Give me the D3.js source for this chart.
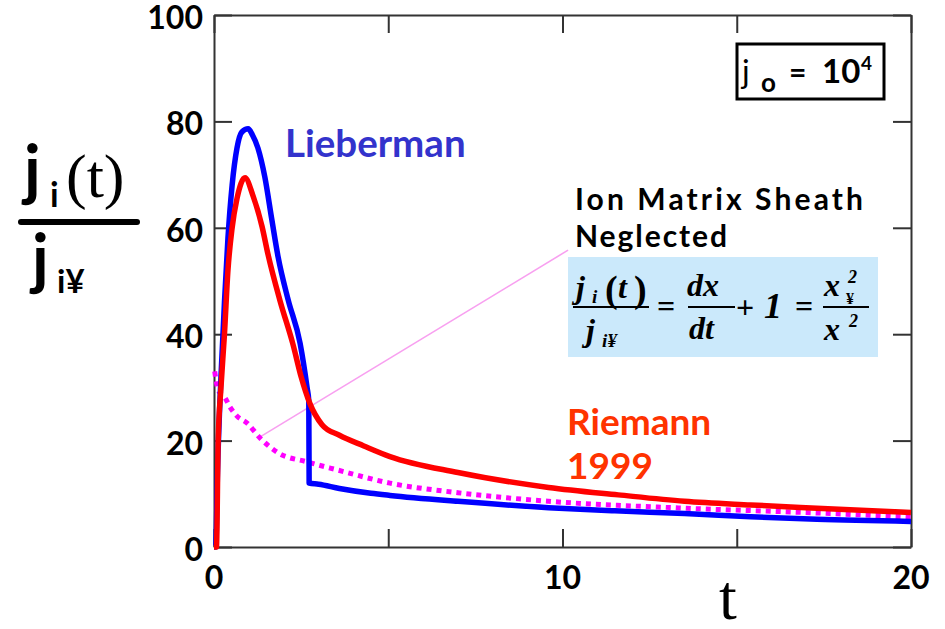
<!DOCTYPE html>
<meta charset="utf-8">
<script src="https://d3js.org/d3.v7.min.js"></script>
<style>
  body { margin: 0; background: #fff; }
  text { font-family: Lato, "Open Sans", sans-serif; }
  .eq { font-family: "Liberation Serif", serif; font-style: italic; font-weight: bold; }
</style>
<div id="chart"></div>
<script>
// curve values: [t, j_i/j_i∞]
const lieberman = [[0,0],[0.05,0],[0.1,14],[0.2,32],[0.3,46],[0.4,58],[0.52,68],[0.66,75],[0.8,78],[0.98,78.6],
  [1.1,77.5],[1.26,75],[1.46,69.5],[1.66,61.5],[1.84,54.5],[2.13,46.4],[2.47,38.3],[2.67,30],[2.72,27.5],[2.73,12],
  [3.0,11.8],[3.6,11.0],[4.5,10.1],[5.05,9.7],[7,8.6],[9.6,7.4],[11.5,6.8],[13.5,6.3],[15.4,5.7],[17.3,5.2],[20,4.8]];
const riemann = [[0,0],[0.07,0],[0.12,20],[0.2,30],[0.3,40],[0.4,52],[0.52,60],[0.66,65.5],[0.89,69.4],[1.12,66],
  [1.38,60.2],[1.55,55],[1.89,46.4],[2.27,38],[2.5,32],[2.75,27],[3.1,23],[3.6,21],[4.3,19],[5.05,17],
  [7,14],[9.6,11.2],[11.6,9.8],[13.5,8.6],[15.4,7.9],[17.3,7.3],[20,6.5]];
const neglected = [[0.02,33],[0.12,29.5],[0.32,28],[0.46,26.3],[0.66,24.6],[0.95,23.3],[1.32,20.5],[1.84,17.7],
  [2.67,16],[3.53,14.5],[5.05,12],[7,10.2],[9.6,8.6],[13.5,7.3],[17.3,6.4],[20,5.6]];
const xTicks = [0, 5, 10, 15, 20];
const xLabels = [0, 10, 20];
const yTicks = [0, 20, 40, 60, 80, 100];
const pointer = [[1.3, 20.6], [10.16, 55.8]];

const W = 945, H = 629;
const svg = d3.select("#chart").append("svg").attr("width", W).attr("height", H);

const x = d3.scaleLinear().domain([0, 20]).range([214, 911]);
const y = d3.scaleLinear().domain([0, 100]).range([547, 15]);

// frame with inward ticks on all four sides
const tk = 18;
svg.append("g").attr("transform", "translate(0,547)")
  .call(d3.axisBottom(x).tickValues(xTicks).tickSizeInner(-tk).tickSizeOuter(0).tickFormat(""));
svg.append("g").attr("transform", "translate(0,15)")
  .call(d3.axisTop(x).tickValues(xTicks).tickSizeInner(-tk).tickSizeOuter(0).tickFormat(""));
svg.append("g").attr("transform", "translate(214,0)")
  .call(d3.axisLeft(y).tickValues(yTicks).tickSizeInner(-tk).tickSizeOuter(0).tickFormat(""));
svg.append("g").attr("transform", "translate(911,0)")
  .call(d3.axisRight(y).tickValues(yTicks).tickSizeInner(-tk).tickSizeOuter(0).tickFormat(""));
svg.selectAll(".domain, .tick line").attr("stroke", "#333").attr("stroke-width", 2);

// tick labels
svg.append("g").selectAll("text").data(yTicks).join("text")
  .attr("x", 203).attr("y", d => y(d) + 14)
  .attr("text-anchor", "end").attr("font-size", 32).attr("font-weight", "bold")
  .text(d => d);
svg.append("g").selectAll("text").data(xLabels).join("text")
  .attr("x", d => x(d)).attr("y", 589)
  .attr("text-anchor", "middle").attr("font-size", 32).attr("font-weight", "bold")
  .text(d => d);

// axis titles
svg.append("text").attr("x", 728).attr("y", 619).attr("text-anchor", "middle")
  .style("font-family", "'Liberation Serif', serif").attr("font-size", 64).text("t");

const yl = svg.append("g");
yl.append("text").attr("x", 24).attr("y", 193).attr("font-size", 66).attr("font-weight", "bold").text("j");
yl.append("text").attr("x", 50).attr("y", 207).attr("font-size", 34).attr("font-weight", "bold").text("i");
yl.append("text").attr("x", 66).attr("y", 197).style("font-family", "'Liberation Serif', serif")
  .attr("font-size", 62).text("(t)");
yl.append("line").attr("x1", 21).attr("x2", 137).attr("y1", 222).attr("y2", 222)
  .attr("stroke", "#000").attr("stroke-width", 6).attr("stroke-linecap", "round");
yl.append("text").attr("x", 32).attr("y", 282).attr("font-size", 66).attr("font-weight", "bold").text("j");
yl.append("text").attr("x", 57).attr("y", 293).attr("font-size", 33).attr("font-weight", "bold").text("i¥");

// equation box
svg.append("rect").attr("x", 568).attr("y", 257).attr("width", 310).attr("height", 100).attr("fill", "#cbe9fb");

// pointer line
svg.append("line")
  .attr("x1", x(pointer[0][0])).attr("y1", y(pointer[0][1]))
  .attr("x2", x(pointer[1][0])).attr("y2", y(pointer[1][1]))
  .attr("stroke", "#f8a0f0").attr("stroke-width", 1.6);

// curves
const line = d3.line().x(d => x(d[0])).y(d => y(d[1])).curve(d3.curveMonotoneX);
svg.append("path").datum(neglected).attr("d", line)
  .attr("fill", "none").attr("stroke", "#ff00ff").attr("stroke-width", 5).attr("stroke-dasharray", "5,5");
svg.append("path").datum(lieberman).attr("d", line)
  .attr("fill", "none").attr("stroke", "#0000ff").attr("stroke-width", 5.5).attr("stroke-linejoin", "round");
svg.append("path").datum(riemann).attr("d", line)
  .attr("fill", "none").attr("stroke", "#ff0000").attr("stroke-width", 5.5).attr("stroke-linejoin", "round");

// labels
svg.append("text").attr("x", 285).attr("y", 157).attr("font-size", 38.5).attr("font-weight", "bold")
  .attr("fill", "#3333cc").text("Lieberman");
svg.append("text").attr("x", 567).attr("y", 435).attr("font-size", 37).attr("font-weight", "bold")
  .attr("fill", "#ff3300").text("Riemann");
svg.append("text").attr("x", 567).attr("y", 479).attr("font-size", 37).attr("font-weight", "bold")
  .attr("fill", "#ff3300").text("1999");
svg.append("text").attr("x", 575).attr("y", 210).attr("font-size", 30).attr("font-weight", "bold")
  .attr("textLength", 288).attr("lengthAdjust", "spacing").text("Ion Matrix Sheath");
svg.append("text").attr("x", 575).attr("y", 247).attr("font-size", 30).attr("font-weight", "bold")
  .attr("textLength", 152).attr("lengthAdjust", "spacing").text("Neglected");

// j0 box
svg.append("rect").attr("x", 737).attr("y", 44).attr("width", 147).attr("height", 55)
  .attr("fill", "none").attr("stroke", "#000").attr("stroke-width", 3);
svg.append("text").attr("x", 742).attr("y", 83).attr("font-size", 32).text("j");
svg.append("text").attr("x", 761).attr("y", 92).attr("font-size", 26).attr("font-weight", "bold").text("o");
svg.append("text").attr("x", 789).attr("y", 83).attr("font-size", 30).attr("font-weight", "bold").text("=");
svg.append("text").attr("x", 822).attr("y", 83).attr("font-size", 33).attr("font-weight", "bold").text("10");
svg.append("text").attr("x", 861).attr("y", 70).attr("font-size", 19).attr("font-weight", "bold").text("4");

// equation
const eq = svg.append("g").attr("class", "eq");
const et = (tx, ty, size, s, cls) => eq.append("text").attr("class", "eq").attr("x", tx).attr("y", ty)
  .attr("font-size", size).style("font-style", cls || "italic").text(s);
et(576, 298, 32, "j");
et(592, 303, 19, "i");
et(605, 302, 38, "(", "normal");
et(618, 298, 32, "t");
et(634, 302, 38, ")", "normal");
et(586, 341, 32, "j");
et(602, 347, 19, "i¥");
et(657, 317, 32, "=", "normal");
et(687, 296, 32, "dx");
et(689, 339, 32, "dt");
et(736, 318, 32, "+", "normal");
et(764, 318, 36, "1");
et(795, 317, 32, "=", "normal");
et(824, 296, 32, "x");
et(848, 283, 18, "2");
et(846, 304, 16, "¥", "normal");
et(824, 340, 32, "x");
et(849, 327, 18, "2");
[[573, 649], [688, 735], [823, 869]].forEach(b => eq.append("line")
  .attr("x1", b[0]).attr("x2", b[1]).attr("y1", 307).attr("y2", 307)
  .attr("stroke", "#000").attr("stroke-width", 2));
</script>
